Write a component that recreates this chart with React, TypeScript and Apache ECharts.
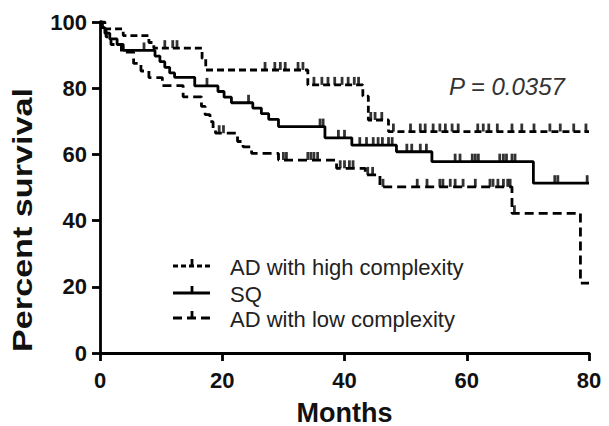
import React, { useEffect, useRef } from "react";
import * as echarts from "echarts";

// Kaplan-Meier step data (months, percent survival)
const highTimes = [0, 0.8, 3.8, 8.0, 8.8, 16.7, 17.3, 34.0, 43.0, 43.9, 47.2, 80];
const highSurv = [100, 97.9, 95.9, 93.8, 92.1, 89.0, 85.5, 81.0, 77.6, 70.4, 66.9, 66.9];
const highCensor = [10.6, 11.9, 12.6, 27.0, 28.6, 29.5, 30.3, 32.4, 33.2, 35.0, 36.3, 37.3, 38.4, 39.6, 40.6, 41.6, 42.3, 44.3, 45.0, 46.1, 48.0, 50.8, 52.4, 53.2, 54.5, 55.6, 56.5, 57.6, 58.6, 61.8, 62.7, 63.6, 65.0, 67.4, 69.0, 71.0, 73.6, 75.3, 77.5, 79.5];

const sqTimes = [0, 0.3, 0.8, 1.6, 2.8, 3.8, 9.0, 9.8, 10.6, 11.4, 12.2, 15.5, 19.3, 20.3, 21.5, 25.0, 26.4, 27.6, 29.2, 36.8, 41.2, 48.5, 54.3, 70.9, 80];
const sqSurv = [100, 98.3, 96.6, 94.9, 93.2, 91.4, 89.7, 88.0, 86.3, 84.6, 83.3, 80.7, 79.0, 77.3, 75.6, 74.0, 72.3, 70.6, 68.4, 65.0, 62.8, 60.8, 57.8, 51.3, 51.3];
const sqCensor = [7.2, 17.5, 24.3, 36.0, 36.5, 39.0, 40.0, 42.5, 43.6, 44.7, 45.5, 46.2, 47.2, 47.8, 50.2, 51.0, 52.4, 53.4, 58.1, 58.9, 60.9, 61.4, 61.9, 65.4, 66.0, 66.5, 67.4, 67.9, 74.4, 74.9, 79.7];

const lowTimes = [0, 0.4, 1.0, 1.8, 3.5, 5.5, 6.7, 8.0, 10.2, 13.6, 16.6, 17.2, 18.0, 18.5, 18.9, 22.5, 23.4, 24.8, 29.2, 38.7, 43.4, 45.8, 67.4, 78.6, 80];
const lowSurv = [100, 97.7, 95.5, 93.2, 90.9, 87.5, 85.2, 83.2, 80.8, 77.4, 74.5, 72.0, 69.9, 67.4, 66.4, 63.9, 62.3, 60.3, 58.3, 55.8, 53.8, 50.2, 42.2, 21.1, 21.1];
const lowCensor = [19.5, 20.2, 30.0, 30.5, 34.0, 34.5, 35.0, 35.6, 39.3, 40.0, 40.8, 41.4, 43.8, 44.6, 46.3, 51.9, 53.5, 55.6, 56.1, 57.3, 58.1, 59.4, 61.4, 63.8, 64.3, 65.1, 66.0, 66.7, 67.1, 67.8];

const xTicks = { min: 0, max: 80, interval: 20 };
const yTicks = { min: 0, max: 100, interval: 20 };

const legendNames = ["AD with high complexity", "SQ", "AD with low complexity"];
const pValueText = "P = 0.0357";

function stepAt(times: number[], surv: number[], t: number) {
  let v = surv[0];
  for (let i = 0; i < times.length; i++) {
    if (times[i] <= t) v = surv[i];
  }
  return v;
}

const FONT = "'Liberation Sans', Arial, Helvetica, sans-serif";

export default function App() {
  const ref = useRef<HTMLDivElement>(null);
  useEffect(() => {
    const chart = echarts.init(ref.current!, null, { renderer: "svg" });
    const lineSeries = (name: string, times: number[], surv: number[], dash: any) => ({
      name,
      type: "line",
      step: "end",
      showSymbol: false,
      data: times.map((t, i) => [t, surv[i]]),
      lineStyle: { color: "#000", width: 2.8, type: dash },
      z: 3,
    });
    const censorSeries = (name: string, times: number[], surv: number[], censor: number[]) => ({
      name: name + " censored",
      type: "scatter",
      symbol: "rect",
      symbolSize: [2.8, 8],
      symbolOffset: [0, "-50%"],
      itemStyle: { color: "#000" },
      data: censor.map((t) => [t, stepAt(times, surv, t)]),
      z: 4,
    });
    const axisCommon = {
      axisLine: { show: true, lineStyle: { color: "#000", width: 2.8 } },
      axisTick: { show: true, length: 8, lineStyle: { color: "#000", width: 2.8 } },
      splitLine: { show: false },
    };
    const legendRows = [266, 293, 318];
    const legendDash: any[] = [[5, 3], null, [9, 5]];
    const graphics: any[] = [];
    legendRows.forEach((y, i) => {
      graphics.push({
        type: "line",
        shape: { x1: 173, y1: y, x2: 210, y2: y },
        style: { stroke: "#000", lineWidth: 2.8, lineDash: legendDash[i] || undefined },
      });
      graphics.push({
        type: "line",
        shape: { x1: 192, y1: y, x2: 192, y2: y - 7 },
        style: { stroke: "#000", lineWidth: 2.8 },
      });
      graphics.push({
        type: "text",
        x: 230,
        y: y + 1,
        style: {
          text: legendNames[i],
          fill: "#222",
          font: `22px ${FONT}`,
          verticalAlign: "middle",
          align: "left",
        },
      });
    });
    graphics.push({
      type: "text",
      x: 449,
      y: 86,
      style: {
        text: pValueText,
        fill: "#333",
        font: `italic 24px ${FONT}`,
        verticalAlign: "middle",
        align: "left",
      },
    });
    graphics.push({
      type: "text",
      x: 23,
      y: 220,
      rotation: Math.PI / 2,
      scaleX: 1.22,
      style: {
        text: "Percent survival",
        fill: "#111",
        font: `bold 28px ${FONT}`,
        verticalAlign: "middle",
        align: "center",
      },
    });

    chart.setOption({
      animation: false,
      backgroundColor: "#fff",
      textStyle: { fontFamily: FONT },
      grid: { left: 100, right: 20, top: 22, bottom: 73, containLabel: false, outerBoundsMode: "none" },
      xAxis: {
        type: "value",
        ...xTicks,
        ...axisCommon,
        axisLabel: { fontSize: 22, fontWeight: "bold", color: "#111", margin: 16, fontFamily: FONT },
        name: "Months",
        nameLocation: "middle",
        nameGap: 46,
        nameTextStyle: { fontSize: 27, fontWeight: "bold", color: "#111", fontFamily: FONT },
      },
      yAxis: {
        type: "value",
        ...yTicks,
        ...axisCommon,
        axisLabel: { fontSize: 22, fontWeight: "bold", color: "#111", margin: 13, fontFamily: FONT },
      },
      series: [
        lineSeries(legendNames[0], highTimes, highSurv, [7, 4]),
        lineSeries(legendNames[1], sqTimes, sqSurv, "solid"),
        lineSeries(legendNames[2], lowTimes, lowSurv, [9, 5]),
        censorSeries(legendNames[0], highTimes, highSurv, highCensor),
        censorSeries(legendNames[1], sqTimes, sqSurv, sqCensor),
        censorSeries(legendNames[2], lowTimes, lowSurv, lowCensor),
      ],
      graphic: graphics,
    });
    return () => chart.dispose();
  }, []);
  return (
    <div
      ref={ref}
      style={{ position: "fixed", left: 0, top: 0, width: 609, height: 426, background: "#fff" }}
    />
  );
}
